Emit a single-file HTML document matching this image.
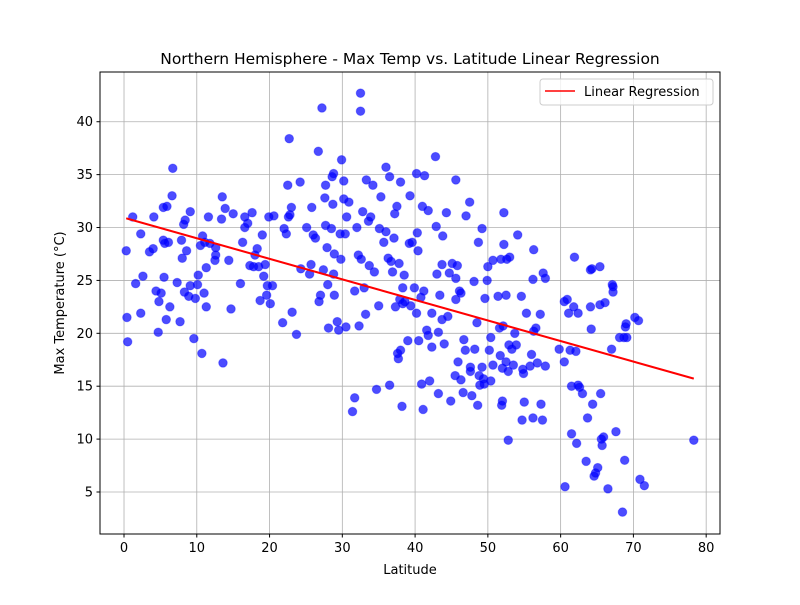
<!DOCTYPE html>
<html><head><meta charset="utf-8"><style>
body{margin:0;background:#fff}
svg{font-family:"DejaVu Sans","Liberation Sans",sans-serif}
</style></head><body>
<svg id="chart" width="800" height="600">
<rect width="800" height="600" fill="#fff"/>
<g id="grid"></g>
<g id="points"></g>
<g id="reg"></g>
<rect x="100" y="72" width="620" height="462" fill="none" stroke="#000" stroke-width="1"/>
<g id="axes"></g>
<text x="410" y="64" text-anchor="middle" font-size="15.5">Northern Hemisphere - Max Temp vs. Latitude Linear Regression</text>
<text x="410" y="574" text-anchor="middle" font-size="13">Latitude</text>
<text x="64" y="303" text-anchor="middle" font-size="13" transform="rotate(-90 64 303)">Max Temperature (°C)</text>
<g>
<rect x="540" y="79" width="173" height="26" rx="3" fill="#fff" fill-opacity="0.8" stroke="#ccc"/>
<line x1="545" y1="91" x2="575" y2="91" stroke="red" stroke-width="1.5"/>
<text x="584" y="96" font-size="13">Linear Regression</text>
</g>
</svg>
<script>
const lat=[0.3,0.4,0.5,1.2,1.6,2.3,2.3,2.6,3.5,4,4.1,4.4,4.7,4.8,5.1,5.4,5.4,5.5,5.6,5.8,5.9,6.1,6.3,6.6,6.7,7.3,7.7,7.9,8,8.2,8.3,8.4,8.6,8.9,9.1,9.1,9.6,9.8,10.1,10.2,10.5,10.7,10.8,11,11.1,11.3,11.3,11.6,11.8,12.5,12.6,12.6,13.4,13.5,13.6,13.9,14.4,14.7,15,
16,16.3,16.6,16.6,17,17.3,17.6,17.8,18,18.3,18.5,18.7,19,19.2,19.4,19.6,19.7,19.9,20.1,20.4,20.6,21.8,22,22.3,22.5,22.6,22.7,22.8,23,23.1,23.7,24.2,24.3,25.1,25.5,25.7,25.8,26,26.3,26.7,26.8,27,27.2,27.4,27.6,27.7,27.7,27.9,28,28.1,28.5,28.6,28.8,28.7,28.8,28.9,28.9,29.3,29.5,29.7,29.8,29.9,30.2,30.2,30.4,30.5,30.6,30.9,
31.4,31.7,31.7,32,32.2,32.3,32.5,32.5,32.6,32.8,33,33.2,33.3,33.6,33.7,33.9,34.2,34.4,34.7,35,35.1,35.3,35.7,36,36,36.3,36.5,36.5,36.7,36.9,37.1,37.2,37.3,37.5,37.6,37.7,37.8,37.9,38,38,38.2,38.3,38.3,38.5,38.6,39,39.2,39.3,39.4,39.6,39.9,40.2,40.2,40.3,40.4,40.5,40.8,40.9,41,41.1,41.2,41.3,41.6,41.8,41.8,42,42.3,42.3,42.8,42.9,43,43.2,43.2,43.4,43.7,43.7,43.8,44,44.3,44.5,44.7,44.9,45.1,45.5,45.6,45.6,45.6,
45.8,45.9,46.1,46.3,46.3,46.6,46.7,46.9,47,47.5,47.6,47.6,47.8,48.1,48.2,48.5,48.6,48.7,48.8,48.9,49.2,49.2,49.4,49.5,49.6,49.9,50,50.2,50.4,50.4,50.7,50.7,51.4,51.6,51.7,51.8,51.9,52,52,52.1,52.2,52.2,52.5,52.5,52.6,52.8,52.8,52.9,53,53.3,53.5,53.7,53.9,54.1,54.6,54.7,54.8,54.9,55,55.3,55.8,56,56.2,56.2,56.3,56.3,56.6,56.8,57.2,57.3,57.5,57.6,57.9,57.9,
59.8,60.5,60.5,60.6,60.9,61.1,61.3,61.5,61.5,61.8,61.9,62.1,62.2,62.4,62.4,62.6,63,63.5,63.7,64.1,64.1,64.2,64.3,64.4,64.6,64.8,65.1,65.4,65.4,65.5,65.6,65.7,65.9,66.1,66.5,67,67.1,67.2,67.2,67.6,68.1,68.5,68.7,68.8,68.9,69,69.1,70.2,70.7,70.9,71.5,78.3];
const maxTemp=[27.8,21.5,19.2,31,24.7,29.4,21.9,25.4,27.7,28,31,24,20.1,23,23.8,28.8,31.9,25.3,28.5,21.3,32,28.6,22.5,33,35.6,24.8,21.1,28.8,27.1,30.3,23.9,30.7,27.8,23.5,31.5,24.5,19.5,23.3,24.6,25.5,28.3,18.1,29.2,23.8,28.6,26.2,22.5,31,28.5,26.9,27.4,28.1,30.8,32.9,17.2,31.8,26.9,22.3,31.3,
24.7,28.6,30,31,30.4,26.4,31.4,26.3,27.4,28,26.3,23.1,29.3,25.4,26.5,23.6,24.5,31,22.8,24.5,31.1,21,29.9,29.4,34,31,38.4,31.2,31.9,22,19.9,34.3,26.1,30,25.6,26.5,31.9,29.3,29,37.2,23,23.6,41.3,26,32.8,34,30.2,28.1,24.6,20.5,29.9,34.8,35.1,32.2,25.6,23.6,27.5,21.1,20.3,29.4,27,36.4,34.4,32.7,29.4,20.6,31,32.4,
12.6,13.9,24,30,27.4,20.7,42.7,41,27,31.5,24.3,21.8,34.5,30.6,26.4,31,34,25.8,14.7,22.6,29.9,32.9,28.6,35.7,29.6,27.1,34.8,15.1,26.8,25.8,29,31.3,22.5,32,18.1,17.6,26.6,23.2,34.3,18.4,13.1,24.3,22.8,25.5,23,19.3,28.5,33,22.6,28.6,24.3,35.1,21.9,29.5,27.8,19.3,23.4,15.2,32,12.8,24,34.9,20.3,19.8,31.6,15.5,18.7,21.9,36.7,30.1,25.6,14.3,20.1,23.6,21.3,26.5,29.2,19,31.4,21.6,25.7,13.6,26.6,16,25.2,23.2,34.5,
26.4,17.3,24,23.8,15.6,14.4,19.4,18.4,31.1,32.4,16.4,16.8,14.1,24.9,18.5,21,13.2,28.6,16,15.1,29.9,16.8,15.7,15.2,23.3,25,26.3,18.4,15.5,19.6,26.9,17,23.5,20.5,17.9,27,13.2,16.7,13.6,20.7,31.4,28.4,17.3,23.6,27,9.9,16.4,18.9,27.2,18.5,17,20,18.9,29.3,23.5,11.8,16.6,16.2,13.5,21.9,16.9,18,25.1,12,27.9,20.2,20.5,17.2,21.8,13.3,11.8,25.7,25.2,16.9,
18.5,17.3,23,5.5,23.2,21.9,18.4,10.5,15,22.5,27.2,18.3,9.6,21.9,15.1,14.9,14.3,7.9,12,22.5,26,20.4,26.1,13.3,6.5,6.8,7.3,26.3,22.7,14.3,10,9.4,10.2,22.9,5.3,18.5,24.6,24.4,23.9,10.7,19.6,3.1,19.6,8,20.6,20.9,19.6,21.5,21.2,6.2,5.6,9.9];
const xTicks=[0,10,20,30,40,50,60,70,80];
const yTicks=[5,10,15,20,25,30,35,40];
const NS='http://www.w3.org/2000/svg';
const X0=100,X1=720,Y0=534,Y1=72,xmin=-3.3,xmax=81.9,ymin=1.03,ymax=44.7;
function sx(v){return X0+(v-xmin)/(xmax-xmin)*(X1-X0);}
function sy(v){return Y0-(v-ymin)/(ymax-ymin)*(Y0-Y1);}
function mk(tag,attrs,parent){const e=document.createElementNS(NS,tag);for(const k in attrs)e.setAttribute(k,attrs[k]);parent.appendChild(e);return e;}
const grid=document.getElementById('grid'),axes=document.getElementById('axes');
xTicks.forEach(t=>{const x=sx(t);
 const g=mk('line',{x1:x,x2:x,y1:Y1,y2:Y0,stroke:'#b0b0b0','stroke-width':0.8},grid);
 
 
 mk('line',{x1:x,x2:x,y1:Y0,y2:Y0+3.5,stroke:'#000'},axes);
 const l=mk('text',{x:x,y:Y0+18,'text-anchor':'middle','font-size':13},axes);l.textContent=t;
 
 });
yTicks.forEach(t=>{const y=sy(t);
 const g=mk('line',{x1:X0,x2:X1,y1:y,y2:y,stroke:'#b0b0b0','stroke-width':0.8},grid);
 
 
 mk('line',{x1:X0-3.5,x2:X0,y1:y,y2:y,stroke:'#000'},axes);
 const l=mk('text',{x:X0-7,y:y+4.5,'text-anchor':'end','font-size':13},axes);l.textContent=t;
 
 });
const pts=document.getElementById('points');
for(let i=0;i<lat.length;i++){
 const c=mk('circle',{cx:sx(lat[i]),cy:sy(maxTemp[i]),r:4.3,fill:'#0000ff','fill-opacity':0.7,stroke:'#0000ff','stroke-opacity':0.35,'stroke-width':1},pts);
 
 
}
const n=lat.length;let mx=0,my=0;for(let i=0;i<n;i++){mx+=lat[i];my+=maxTemp[i];}mx/=n;my/=n;
let sxy=0,sxx=0;for(let i=0;i<n;i++){sxy+=(lat[i]-mx)*(maxTemp[i]-my);sxx+=(lat[i]-mx)**2;}
const slope=sxy/sxx,icpt=my-slope*mx;
const lo=Math.min(...lat),hi=Math.max(...lat);
const rl=mk('line',{x1:sx(lo),y1:sy(icpt+slope*lo),x2:sx(hi),y2:sy(icpt+slope*hi),stroke:'red','stroke-width':2},document.getElementById('reg'));


</script>
</body></html>
